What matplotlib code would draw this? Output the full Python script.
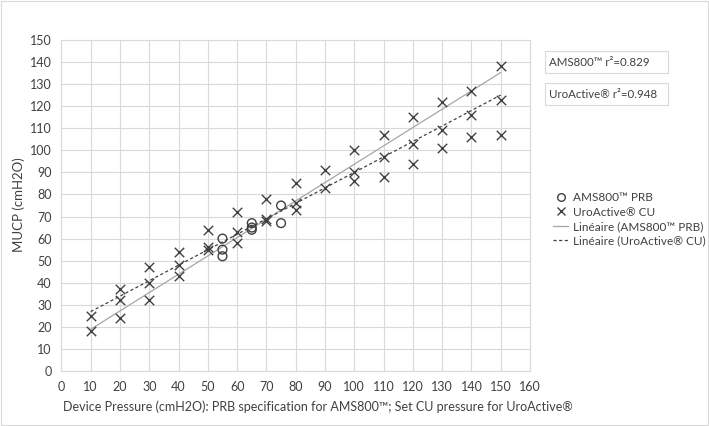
import matplotlib
matplotlib.use("Agg")
import matplotlib.pyplot as plt
from matplotlib.lines import Line2D

plt.rcParams['font.family'] = ['Lato', 'DejaVu Sans']

# AMS800 PRB (circles)
ams_x = [55, 55, 55, 65, 65, 65, 75, 75]
ams_y = [60, 55, 52, 67, 65, 64, 75, 67]

# UroActive CU (crosses)
uro_x = [10, 10, 20, 20, 20, 30, 30, 30, 40, 40, 40, 50, 50, 50, 60, 60, 60,
         70, 70, 70, 80, 80, 80, 90, 90, 100, 100, 100, 110, 110, 110,
         120, 120, 120, 130, 130, 130, 140, 140, 140, 150, 150, 150]
uro_y = [25, 18, 37, 32, 24, 47, 40, 32, 54, 48, 43, 64, 56, 55, 72, 63, 58,
         78, 69, 68, 85, 76, 73, 91, 83, 100, 90, 86, 107, 97, 88,
         115, 103, 94, 122, 109, 101, 127, 116, 106, 138, 123, 107]

# Trend lines: x-range, slope, intercept
trend_x = [10, 150]
ams_trend = (0.831, 10.6)
uro_trend = (0.701, 19.9)

r2_labels = ["AMS800™ r²=0.829", "UroActive® r²=0.948"]
legend_labels = ["AMS800™ PRB", "UroActive® CU",
                 "Linéaire (AMS800™ PRB)", "Linéaire (UroActive® CU)"]

x_ticks = list(range(0, 161, 10))
y_ticks = list(range(0, 151, 10))

W, H = 709, 426
fig = plt.figure(figsize=(W / 100, H / 100), dpi=100)
ax = fig.add_axes([61.4 / W, 1 - 371 / H, (530 - 61.4) / W, (371 - 40) / H])

ink = '#404040'
txt = '#404040'
ax.plot(trend_x, [ams_trend[0] * x + ams_trend[1] for x in trend_x],
        color='#a6a6a6', lw=0.9, zorder=2)
ax.plot(trend_x, [uro_trend[0] * x + uro_trend[1] for x in trend_x],
        color='#404040', lw=0.9, ls=(0, (2.5, 2)), zorder=2)
ax.scatter(ams_x, ams_y, s=40, facecolors='none', edgecolors=ink, linewidths=1.0, zorder=3)
ax.scatter(uro_x, uro_y, s=46, marker='x', color=ink, linewidths=1.0, zorder=3)

ax.set_xlim(0, 160)
ax.set_ylim(0, 150)
ax.set_xticks(x_ticks)
ax.set_yticks(y_ticks)
ax.grid(True, color='#d9d9d9', lw=0.8)
ax.set_axisbelow(True)
for s in ax.spines.values():
    s.set_color('#d9d9d9')
    s.set_linewidth(0.8)
ax.tick_params(length=0, labelsize=9, colors=txt)
ax.tick_params(axis='x', pad=7)
ax.tick_params(axis='y', pad=7)

fig.text(63 / W, 1 - 407 / H,
         "Device Pressure (cmH2O): PRB specification for AMS800™; Set CU pressure for UroActive®",
         fontsize=9, color=txt, ha='left', va='center')
fig.text(19 / W, 1 - 205 / H, "MUCP (cmH2O)", fontsize=9.5, color=txt,
         rotation=90, ha='center', va='center')

# r² boxes
for i, t in enumerate(r2_labels):
    top = 51 + i * 32
    fig.patches.append(plt.Rectangle((545 / W, 1 - (top + 22) / H), 123 / W, 22 / H,
                                     transform=fig.transFigure, fill=True, fc='white',
                                     ec='#d9d9d9', lw=0.8))
    fig.text(549 / W, 1 - (top + 11) / H, t, fontsize=8.3, color=txt, va='center', ha='left')

handles = [
    Line2D([], [], ls='none', marker='o', mfc='none', mec=ink, ms=5.5, mew=1.0),
    Line2D([], [], ls='none', marker='x', color=ink, ms=5.5, mew=1.0),
    Line2D([], [], color='#a6a6a6', lw=0.9),
    Line2D([], [], color=ink, lw=0.9, ls=(0, (2.5, 2))),
]
fig.legend(handles, legend_labels, loc='upper left', bbox_to_anchor=(553 / W, 1 - 192 / H),
           frameon=False, fontsize=8.5, labelcolor=txt, handlelength=1.3,
           handletextpad=0.4, labelspacing=0.3, borderpad=0, borderaxespad=0)

# outer chart border
fig.patches.append(plt.Rectangle((0.002, 0.002), 0.996, 0.996, transform=fig.transFigure,
                                 fill=False, ec='#d9d9d9', lw=0.8))

fig.savefig('out.png', dpi=100)
